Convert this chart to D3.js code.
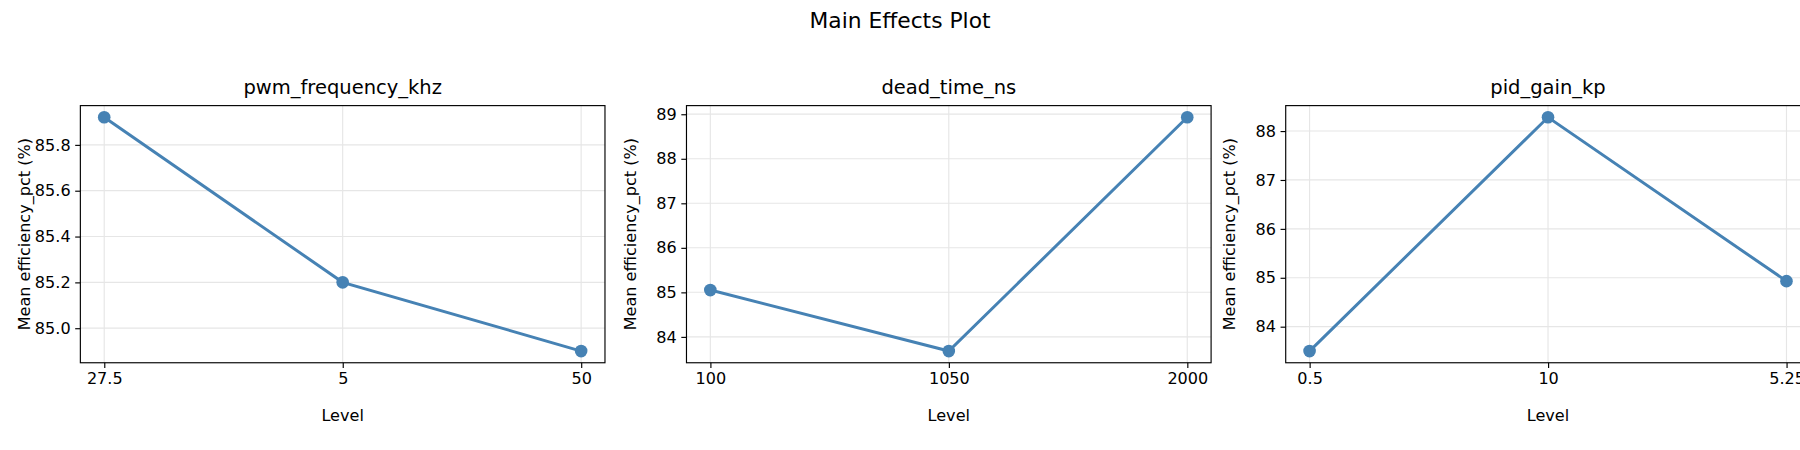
<!DOCTYPE html><html><head><script src="https://d3js.org/d3.v7.min.js"></script>
<style>body{margin:0;background:#fff}text{font-family:"DejaVu Sans",sans-serif;fill:#000}</style></head><body>
<script>
const factors=["pwm_frequency_khz","dead_time_ns","pid_gain_kp"];
const levels=[["27.5","5","50"],["100","1050","2000"],["0.5","10","5.25"]];
const means=[[85.92,85.20,84.90],[85.05,83.68,88.93],[83.50,88.28,84.93]];
const yTicks=[[85.0,85.2,85.4,85.6,85.8],[84,85,86,87,88,89],[84,85,86,87,88]];
const yFmt=[d3.format(".1f"),d3.format("d"),d3.format("d")];
(function(){
const W=1568,H=392;
const svg=d3.select("body").append("svg").attr("width",1800).attr("height",450).attr("viewBox",`0 0 ${W} ${H}`);
svg.append("text").attr("x",W/2).attr("y",24).attr("text-anchor","middle").attr("font-size",19).text("Main Effects Plot");
const lefts=[70,598,1120],pw=457,pTop=92,pBot=316;
factors.forEach((f,i)=>{
  const g=svg.append("g").attr("transform",`translate(${lefts[i]},0)`);
  const x=d3.scaleLinear().domain([-0.1,2.1]).range([0,pw]);
  const ext=d3.extent(means[i]),pad=(ext[1]-ext[0])*0.05;
  const y=d3.scaleLinear().domain([ext[0]-pad,ext[1]+pad]).range([pBot,pTop]);
  g.selectAll(".gy").data(yTicks[i]).join("line").attr("x1",0).attr("x2",pw).attr("y1",d=>y(d)).attr("y2",d=>y(d)).attr("stroke","#e6e6e6");
  g.selectAll(".gx").data([0,1,2]).join("line").attr("x1",d=>x(d)).attr("x2",d=>x(d)).attr("y1",pTop).attr("y2",pBot).attr("stroke","#e6e6e6");
  const xa=g.append("g").attr("transform",`translate(0,${pBot})`).call(d3.axisBottom(x).tickValues([0,1,2]).tickFormat(d=>levels[i][d]).tickSize(4.5).tickPadding(4));
  const ya=g.append("g").call(d3.axisLeft(y).tickValues(yTicks[i]).tickFormat(yFmt[i]).tickSize(4.5).tickPadding(4));
  [xa,ya].forEach(a=>{a.selectAll("text").attr("font-size",14).attr("font-family","DejaVu Sans");a.select(".domain").remove();});
  g.append("rect").attr("x",0).attr("y",pTop).attr("width",pw).attr("height",pBot-pTop).attr("fill","none").attr("stroke","#000").attr("stroke-width",1);
  const line=d3.line().x((d,j)=>x(j)).y(d=>y(d));
  g.append("path").attr("d",line(means[i])).attr("fill","none").attr("stroke","#4682b4").attr("stroke-width",2.6);
  g.selectAll("circle").data(means[i]).join("circle").attr("cx",(d,j)=>x(j)).attr("cy",d=>y(d)).attr("r",5.5).attr("fill","#4682b4");
  g.append("text").attr("x",pw/2).attr("y",pTop-10).attr("text-anchor","middle").attr("font-size",17).text(f);
  g.append("text").attr("x",pw/2).attr("y",pBot+51).attr("text-anchor","middle").attr("font-size",14).text("Level");
  g.append("text").attr("transform",`translate(${-44},${(pTop+pBot)/2}) rotate(-90)`).attr("text-anchor","middle").attr("font-size",14).text("Mean efficiency_pct (%)");
});
})();
</script></body></html>
